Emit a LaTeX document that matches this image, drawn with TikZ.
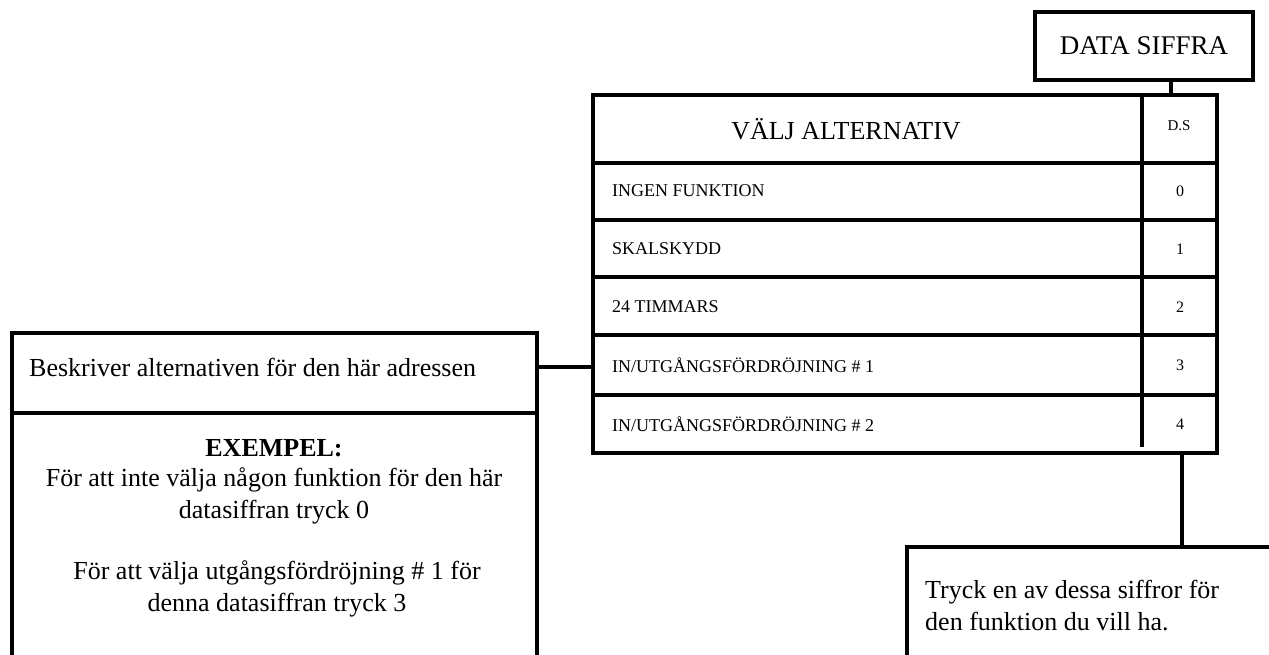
\documentclass[tikz,border=0pt]{standalone}
\usepackage{fontspec}
\setmainfont{Liberation Serif}
\usetikzlibrary{calc,positioning}
\tikzset{
  box/.style={draw,line width=3.2pt,inner sep=0pt},
  wire/.style={line width=3.2pt},
  big/.style={font=\fontsize{26}{32}\selectfont},
  rowtext/.style={font=\fontsize{18}{21}\selectfont,anchor=west,inner sep=0pt},
  digit/.style={font=\fontsize{16}{19}\selectfont}}

\begin{document}
\begin{tikzpicture}[x=1pt,y=-1pt]
\useasboundingbox (0,0) rectangle (1269,655);
\node[box,font=\fontsize{27}{32}\selectfont,minimum width=218,minimum height=68]
  (data) at (1144,46) {DATA SIFFRA};
% option table
\node[box,minimum width=624,minimum height=358] (tbl) at (905,274) {};
\draw[wire] (593,163) -- ++(624,0);
\foreach \y in {220,277,335,395}
  \draw[wire] (593,\y) -- ++(624,0);
\draw[wire] (1142,95) -- (1142,447);
\node[font=\fontsize{26}{32}\selectfont] (hdr) at (846,129) {VÄLJ ALTERNATIV};
\node[font=\fontsize{15}{18}\selectfont] (ds) at (1179,126) {D.S};
\foreach \n/\y/\t in {0/191/{INGEN FUNKTION},1/249/{SKALSKYDD},2/307/{24 TIMMARS},
    3/365/{IN/UTGÅNGSFÖRDRÖJNING \# 1},4/424/{IN/UTGÅNGSFÖRDRÖJNING \# 2}} {
  \node[rowtext] (r\n) at (612,\y) {\t};
  \node[digit] (d\n) at (1180,\y) {\n};
}
% description box, open at the bottom
\draw[wire] (12,655) -- (12,333) -- (537,333) -- (537,655);
\draw[wire] (12,413) -- (537,413);
\coordinate (lbox) at (537,367);
\node[big,anchor=west,inner sep=0pt] (desc) at (29,367)
  {Beskriver alternativen för den här adressen};
\node[big,font=\fontsize{26}{32}\bfseries] (ex) at (274,448) {EXEMPEL:};
\node[big,align=center] (exa) at (274,496)
  {För att inte välja någon funktion för den här\\datasiffran tryck 0};
\node[big,align=center] (exb) at (277,589)
  {För att välja utgångsfördröjning \# 1 för\\denna datasiffran tryck 3};
% key box, open at the right and bottom
\coordinate (tip) at (1182,547);
\draw[wire] (1269,547) -- (907,547) -- (907,655);
\node[big,align=left,anchor=west,inner sep=0pt] (key) at (925,606)
  {Tryck en av dessa siffror för\\den funktion du vill ha.};
% connectors
\coordinate (dstub) at (1171,95);
\draw[wire] (dstub |- data.south) -- (dstub);
\draw[wire] (lbox) -- (lbox -| tbl.west);
\draw[wire] (tip |- tbl.south) -- (tip);
\end{tikzpicture}
\end{document}
